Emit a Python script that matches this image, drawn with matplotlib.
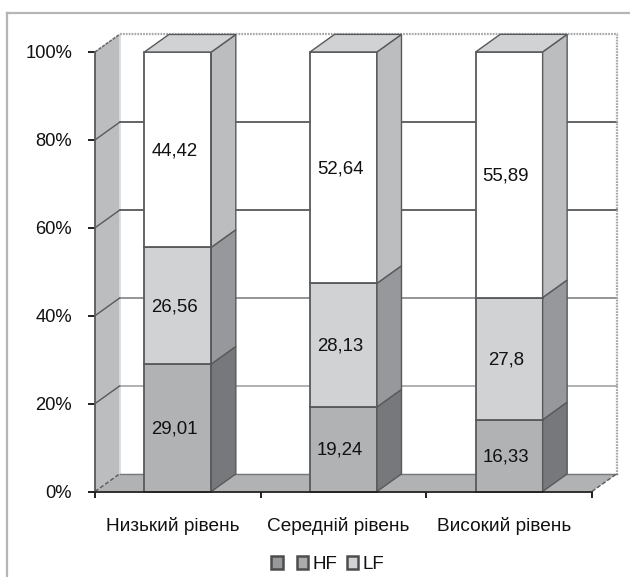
import matplotlib
matplotlib.use("Agg")
import matplotlib.pyplot as plt
from matplotlib.lines import Line2D
from matplotlib.patches import Patch
from matplotlib.transforms import ScaledTranslation

plt.rcParams['font.family'] = ['Liberation Sans', 'DejaVu Sans']

categories = ['Низький рівень', 'Середній рівень', 'Високий рівень']
series_unnamed = [29.01, 19.24, 16.33]
series_hf = [26.56, 28.13, 27.8]
series_lf = [44.42, 52.64, 55.89]
label_unnamed = ['29,01', '19,24', '16,33']
label_hf = ['26,56', '28,13', '27,8']
label_lf = ['44,42', '52,64', '55,89']
y_ticks = [0, 20, 40, 60, 80, 100]
y_tick_labels = ['0%', '20%', '40%', '60%', '80%', '100%']
legend_labels = ['', 'HF', 'LF']

W, H = 630, 577
DEPTH_X, DEPTH_Y = 0.148, 4.0
BAR_W = 0.404
EDGE = '#58595b'

fig = plt.figure(figsize=(W / 100, H / 100), dpi=100)
ax = fig.add_axes([95 / W, (H - 491.5) / H, (592 - 95) / W, (491.5 - 52) / H])
n = len(categories)
ax.set_xlim(0, n)
ax.set_ylim(0, 100)

# chart frame
fig.add_artist(Line2D([6.5 / W, 6.5 / W], [0, 1 - 13 / H], color='#b5b6b8', lw=1.6))
fig.add_artist(Line2D([6.5 / W, 1], [1 - 13 / H, 1 - 13 / H], color='#b5b6b8', lw=1.6))

kw = dict(clip_on=False)
# left wall and floor
ax.fill([0, DEPTH_X, DEPTH_X, 0], [0, DEPTH_Y, 100 + DEPTH_Y, 100], fc='#bcbdbf', ec='none', zorder=1, **kw)
ax.plot([DEPTH_X] * 2, [DEPTH_Y, 100 + DEPTH_Y], color='#d8d9da', lw=1.2, zorder=1.1, **kw)
ax.fill([0, n, n + DEPTH_X, DEPTH_X], [0, 0, DEPTH_Y, DEPTH_Y], fc='#b1b2b4', ec='none', zorder=1, **kw)
ax.plot([DEPTH_X, n + DEPTH_X], [DEPTH_Y] * 2, color='#77787b', lw=1, zorder=1.2, **kw)

# back wall gridlines
grid_colors = {20: '#9a9b9d', 40: '#77787b', 60: '#3a3a3c', 80: '#3a3a3c'}
for v, c in grid_colors.items():
    ax.plot([DEPTH_X, n + DEPTH_X], [v + DEPTH_Y, v + DEPTH_Y], color=c, lw=1.1, zorder=1.5, **kw)
    ax.plot([0, DEPTH_X], [v, v + DEPTH_Y], color='#58595b', lw=1.0, zorder=1.5, **kw)
ax.plot([0, DEPTH_X], [100, 100 + DEPTH_Y], color='#6d6e71', lw=1.2, ls=(0, (2, 0.6)), zorder=1.5, **kw)
ax.plot([DEPTH_X, n + DEPTH_X, n + DEPTH_X], [100 + DEPTH_Y, 100 + DEPTH_Y, DEPTH_Y],
        color='#a7a8aa', lw=1.6, ls=(0, (0.8, 0.5)), zorder=1.5, **kw)
ax.plot([0, DEPTH_X], [0, DEPTH_Y], color='#58595b', lw=1, ls=(0, (3, 1.5)), zorder=1.6, **kw)
ax.plot([n, n + DEPTH_X], [0, DEPTH_Y], color='#58595b', lw=1, ls=(0, (3, 1.5)), zorder=1.6, **kw)

# 3D stacked bars
styles = [('#b1b2b4', '#77787b', '#b1b2b4'),
          ('#d1d2d4', '#97989b', '#d1d2d4'),
          ('#ffffff', '#bcbdbf', '#d1d2d4')]
stack = [(series_unnamed, label_unnamed), (series_hf, label_hf), (series_lf, label_lf)]
for i in range(n):
    x0 = i + 0.5 - BAR_W / 2
    x1 = x0 + BAR_W
    base = 0
    for s, (values, labels) in enumerate(stack):
        v = values[i]
        top = base + v
        z = 3 + i + s * 0.1
        front, side, cap = styles[s]
        ax.fill([x0, x1, x1, x0], [base, base, top, top], fc=front, ec=EDGE, lw=1.3, zorder=z, **kw)
        ax.fill([x1, x1 + DEPTH_X, x1 + DEPTH_X, x1], [base, base + DEPTH_Y, top + DEPTH_Y, top],
                fc=side, ec=EDGE, lw=1, zorder=z, **kw)
        if s == len(stack) - 1:
            ax.fill([x0, x1, x1 + DEPTH_X, x0 + DEPTH_X], [top, top, top + DEPTH_Y, top + DEPTH_Y],
                    fc=cap, ec=EDGE, lw=1, zorder=z, **kw)
        ax.text(i + 0.5 - 0.02, base + v / 2 - 0.25, labels[i], ha='center', va='center',
                fontsize=13.4, color='#111111', zorder=z + 0.05)
        base = top

# axes
for sp in ('top', 'right'):
    ax.spines[sp].set_visible(False)
ax.spines['left'].set_color('#58595b')
ax.spines['left'].set_linewidth(1.3)
ax.spines['left'].set_zorder(2)
ax.spines['bottom'].set_color('#231f20')
ax.spines['bottom'].set_linewidth(1.3)
ax.spines['bottom'].set_zorder(9)
ax.patch.set_visible(False)

ax.set_yticks(y_ticks, y_tick_labels)
ax.tick_params(axis='y', length=5, width=1.4, color='#231f20', pad=11.5, labelsize=13.2, labelcolor='#111111')
ax.set_xticks(range(n + 1), [''] * (n + 1))
ax.tick_params(axis='x', which='major', length=4, width=1.4, color='#231f20')
ax.set_xticks([i + 0.5 for i in range(n)], categories, minor=True)
ax.tick_params(axis='x', which='minor', length=0, pad=18.5, labelsize=13.7, labelcolor='#111111')
shift = ScaledTranslation(-5 / 100, 0, fig.dpi_scale_trans)
for lab in ax.get_xticklabels(minor=True):
    lab.set_transform(lab.get_transform() + shift)

# legend
handles = [Patch(fc=c, ec='#4d4d4f', lw=1.8) for c in ('#98999b', '#aaabad', '#d1d2d4')]
leg = fig.legend(handles, legend_labels, ncol=3, frameon=False, loc='center',
                 bbox_to_anchor=(328 / W, 1 - 564.5 / H), fontsize=13.5,
                 handlelength=0.6, handleheight=0.7, handletextpad=0.25,
                 columnspacing=0.5, borderpad=0, labelcolor='#111111')

fig.savefig('out.png', dpi=100)
